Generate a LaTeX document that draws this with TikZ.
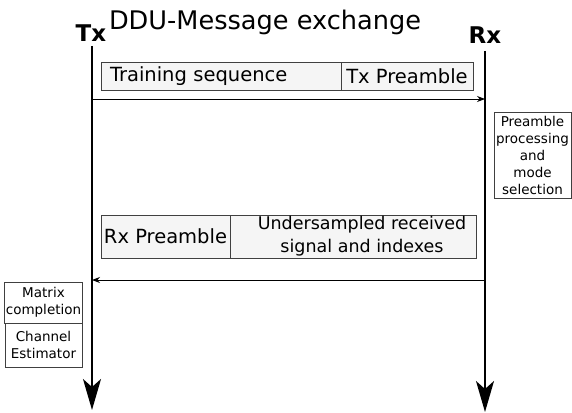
\documentclass[tikz,border=0pt]{standalone}
\usepackage{fontspec}
\setmainfont{DejaVu Sans}
\usetikzlibrary{arrows.meta,positioning}

\begin{document}
\begin{tikzpicture}[x=1pt, y=-1pt, thick]
  \tikzstyle{party} = [inner sep=0pt, font=\bfseries\fontsize{23}{26}\selectfont]
  \tikzstyle{lifeline} = [draw, line width=1.6pt, -{Stealth[length=31pt, width=18pt, inset=8pt]}]
  \tikzstyle{msg} = [draw, line width=0.8pt, -{Stealth[length=8pt, width=6pt]}]
  \tikzstyle{field} = [rectangle, draw=black!75, line width=0.8pt, fill=black!4, inner sep=1pt, outer sep=0pt, font=\fontsize{19.5}{23}\selectfont, align=center]
  \tikzstyle{task} = [rectangle, draw=black!75, line width=0.7pt, fill=white, inner sep=1pt, outer sep=0pt, font=\fontsize{13.5}{17}\selectfont, align=center]

  \useasboundingbox (0,0) rectangle (572,412);

  \node[font=\fontsize{25.6}{28}\selectfont] (title) at (265,22) {DDU-Message exchange};
  \node[party] (tx) at (91,33) {Tx};
  \node[party] (rx) at (485,35) {Rx};
  \coordinate (txend) at (92,410);
  \coordinate (rxend) at (485,412);

  \path[lifeline] (tx.south) ++(1,4) -- (txend);
  \path[lifeline] (rx.south) ++(0,7) -- (rxend);

  % Tx -> Rx
  \node[field, minimum width=240pt, minimum height=28pt, text width=222pt, align=left] (train) at (221,76) {Training sequence};
  \node[field, right=0pt of train, minimum width=132pt, minimum height=28pt] (txpre) {Tx Preamble};
  \coordinate (m1s) at (92,99);
  \coordinate (m1e) at (485,99);
  \path[msg] (m1s) -- (m1e);

  \node[task, minimum width=77pt, minimum height=86pt] (proc) at (532.5,155) {Preamble\\processing\\and\\mode\\selection};

  % Rx -> Tx
  \node[field, minimum width=129pt, minimum height=43pt] (rxpre) at (165.5,236.5) {Rx Preamble};
  \node[field, right=0pt of rxpre, minimum width=246pt, minimum height=43pt, font=\fontsize{17.5}{23}\selectfont] (under) {\hspace*{18pt}Undersampled received\\\hspace*{18pt}signal and indexes};
  \coordinate (m2s) at (485,280);
  \coordinate (m2e) at (92,280);
  \path[msg] (m2s) -- (m2e);

  \node[task, minimum width=77pt, minimum height=41pt] (matrix) at (43.5,302.5) {Matrix\\completion};
  \node[task, below=0pt of matrix, minimum width=77pt, minimum height=44pt] (chest) {Channel\\Estimator};

\end{tikzpicture}
\end{document}
